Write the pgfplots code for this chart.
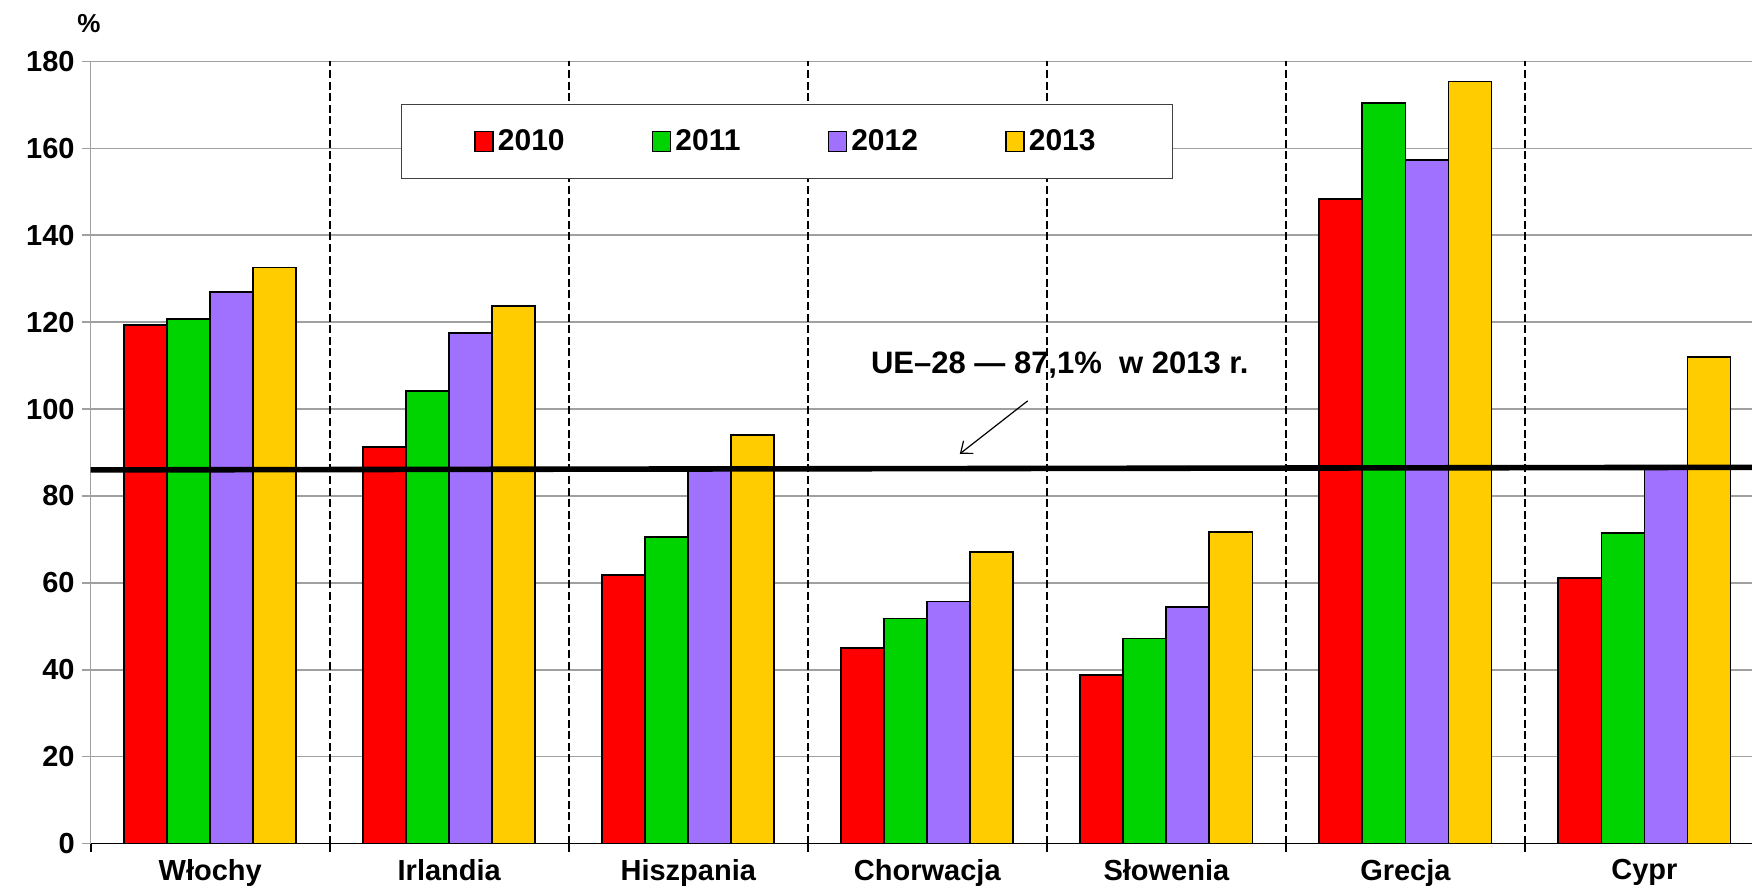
\documentclass[border=0pt]{standalone}
\usepackage{pgfplots}
\pgfplotsset{compat=1.18}
\usepackage{fontspec}
\setmainfont{Liberation Sans}
\usetikzlibrary{arrows.meta}
\definecolor{cRed}{RGB}{255,0,0}
\definecolor{cGreen}{RGB}{0,212,0}
\definecolor{cPurple}{RGB}{160,112,255}
\definecolor{cYellow}{RGB}{255,204,0}
\definecolor{gridgray}{RGB}{160,160,160}
\newcommand\lab{\fontsize{14.5pt}{17pt}\selectfont\bfseries}
\pgfplotsset{boxlegend/.style={legend image code/.code={\draw[##1,draw=black,line width=0.8pt] (0pt,-5pt) rectangle (9pt,5pt);}}}
\begin{document}
\begin{tikzpicture}
\path[use as bounding box] (-45.35pt,-25.2pt) rectangle (830.65pt,421.8pt);
\begin{axis}[
  at={(0,0)}, anchor=south west,
  scale only axis, width=830.65pt, height=391.05pt,
  xmin=-0.5, xmax=6.45, ymin=0, ymax=180,
  axis x line*=bottom, axis y line*=left,
  x axis line style={black, line width=0.9pt, -},
  y axis line style={gridgray, line width=0.8pt, -},
  ytick={0,20,...,180},
  ymajorgrids, major grid style={gridgray, line width=0.8pt},
  tick align=outside,
  ytick style={gridgray, line width=0.8pt},
  major tick length=4.5pt,
  xtick={0,...,6},
  xticklabels={Włochy, Irlandia, Hiszpania, Chorwacja, Słowenia, Grecja, Cypr},
  major x tick style={draw=none},
  minor xtick={-0.5,0.5,...,6.5},
  minor x tick style={black, line width=0.9pt},
  minor tick length=4pt,
  tick label style={font=\lab},
  /pgf/number format/assume math mode=true,
  legend columns=4,
  legend style={at={(0.4191,0.8977)}, anchor=center, draw=black!75, line width=0.6pt,
    font=\fontsize{15pt}{18pt}\selectfont\bfseries, inner xsep=36.4pt, inner ysep=10.7pt,
    /tikz/every even column/.append style={column sep=41.6pt}},
]
\draw[black, line width=1pt, dash pattern=on 4pt off 1.8pt] (axis cs:0.5,0) -- (axis cs:0.5,180);
\draw[black, line width=1pt, dash pattern=on 4pt off 1.8pt] (axis cs:1.5,0) -- (axis cs:1.5,180);
\draw[black, line width=1pt, dash pattern=on 4pt off 1.8pt] (axis cs:2.5,0) -- (axis cs:2.5,180);
\draw[black, line width=1pt, dash pattern=on 4pt off 1.8pt] (axis cs:3.5,0) -- (axis cs:3.5,180);
\draw[black, line width=1pt, dash pattern=on 4pt off 1.8pt] (axis cs:4.5,0) -- (axis cs:4.5,180);
\draw[black, line width=1pt, dash pattern=on 4pt off 1.8pt] (axis cs:5.5,0) -- (axis cs:5.5,180);
\addplot[ybar, bar width=0.18, bar shift=-0.27, fill=cRed, draw=black, line width=0.9pt, boxlegend]
  coordinates {(0,119.3) (1,91.3) (2,61.8) (3,45.0) (4,38.8) (5,148.4) (6,61.2)};
\addplot[ybar, bar width=0.18, bar shift=-0.09, fill=cGreen, draw=black, line width=0.9pt, boxlegend]
  coordinates {(0,120.8) (1,104.2) (2,70.6) (3,51.8) (4,47.2) (5,170.4) (6,71.5)};
\addplot[ybar, bar width=0.18, bar shift=0.09, fill=cPurple, draw=black, line width=0.9pt, boxlegend]
  coordinates {(0,127.0) (1,117.5) (2,86.0) (3,55.7) (4,54.4) (5,157.3) (6,86.3)};
\addplot[ybar, bar width=0.18, bar shift=0.27, fill=cYellow, draw=black, line width=0.9pt, boxlegend]
  coordinates {(0,132.6) (1,123.8) (2,94.0) (3,67.2) (4,71.8) (5,175.4) (6,111.9)};
\addplot[black, line width=2.8pt, forget plot] coordinates {(-0.5,86.0) (6.45,86.6)};
\legend{2010,2011,2012,2013}
\node[font=\fontsize{15.5pt}{18pt}\selectfont\bfseries] at (axis cs:3.554,110.2) {UE–28 — 87,1\%\ \ w 2013 r.};
\draw[line width=0.6pt, -{Straight Barb[length=5pt, width=8pt]}] (axis cs:3.42,101.9) -- (axis cs:3.136,89.7);
\end{axis}
\node[font=\fontsize{13pt}{15pt}\selectfont\bfseries] at (-0.85pt,409.8pt) {\%};
\end{tikzpicture}
\end{document}
